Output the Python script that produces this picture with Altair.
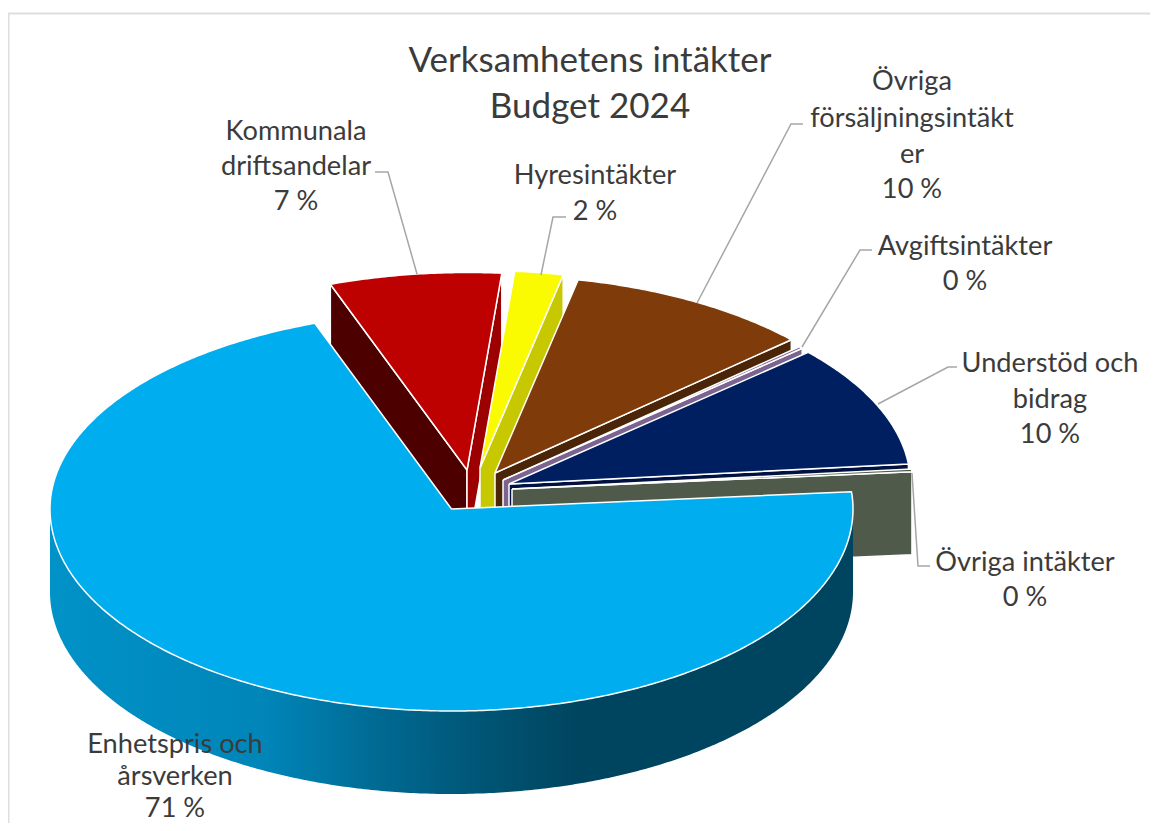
import math
import altair as alt
import pandas as pd

# --- chart values ---------------------------------------------------------
categories = ["Kommunala driftsandelar", "Hyresintäkter", "Övriga försäljningsintäkter",
              "Avgiftsintäkter", "Understöd och bidrag", "Övriga intäkter", "Enhetspris och årsverken"]
shares = [6.91, 1.94, 9.89, 0.17, 10.0, 0.22, 70.87]
start_angle = -19.9
title_lines = ["Verksamhetens intäkter", "Budget 2024"]
label_lines = [
    ["Kommunala", "driftsandelar", "7 %"],
    ["Hyresintäkter", "2 %"],
    ["Övriga", "försäljningsintäkt", "er", "10 %"],
    ["Avgiftsintäkter", "0 %"],
    ["Understöd och", "bidrag", "10 %"],
    ["Övriga intäkter", "0 %"],
    ["Enhetspris och", "årsverken", "71 %"],
]

# --- styling / layout -----------------------------------------------------
top_colors = ["#bd0000", "#fafa00", "#7f3c0a", "#7b6290", "#001f60", "#4f5a4a", "#00aeef"]
end_face = ["#9c0000", "#c8c800", "#4a2508", "#7b6490", "#001040", "#4f5a4a", "#00aeef"]
start_face = ["#4d0000"] * 7
apex_x = [467, 480, 495, 503, 509, 512, 451.5]
apex_y = [470, 468, 473, 480, 484, 489, 509]
RX, RY_BACK, RY_FRONT, DEPTH = 401.5, 197.5, 202, 83
label_cx = [296, 595, 912, 965, 1050, 1025, 175]
label_cy = [[132, 167, 202], [176, 212], [82, 119, 155, 190], [247, 282], [364, 400, 435], [563, 598], [745, 777, 809]]
leaders = [
    [(375, 172), (388, 172), (417, 274)],
    [(566, 217), (553, 217), (541, 275)],
    [(803, 124), (791, 124), (697, 303)],
    [(872, 250), (860, 250), (802, 347)],
    [(957, 367), (948, 367), (878, 404)],
    [(912, 473), (918, 566), (930, 566)],
]
W, H = 1142, 815
xs = alt.Scale(domain=[8, 1150], nice=False, zero=False)
ys = alt.Scale(domain=[823, 8], nice=False, zero=False)
FONT = "Lato"
FS = 27.2


def pt(i, t, drop=0):
    r = math.radians(t)
    c = math.cos(r)
    ry = RY_BACK if c > 0 else RY_FRONT
    return (apex_x[i] + RX * math.sin(r), apex_y[i] - ry * c + drop)


def poly(points, **mark):
    df = pd.DataFrame(points, columns=["x", "y"])
    df["o"] = range(len(df))
    return alt.Chart(df).mark_line(**mark).encode(
        x=alt.X("x:Q", scale=xs, axis=None),
        y=alt.Y("y:Q", scale=ys, axis=None),
        order="o:Q",
    )


def arc(i, a, b, drop=0):
    n = max(2, int(abs(b - a) * 2))
    return [pt(i, a + (b - a) * k / n, drop) for k in range(n + 1)]


def in_range(t, lo, hi):
    t = t % 360
    return lo < t < hi


layers = []
# chart frame
layers.append(poly([(8.5, 823), (8.5, 13.5), (1150, 13.5)], stroke="#dedede", strokeWidth=2))

wall_stops = [(0, "#0092c8"), (0.27, "#0085b8"), (0.42, "#006890"), (0.56, "#005270"), (0.66, "#00455f"), (1, "#00455f")]
gradient = alt.Gradient(gradient="linear", x1=0, x2=1, y1=0, y2=0,
                        stops=[alt.GradientStop(offset=o, color=c) for o, c in wall_stops])

edge = dict(stroke="white", strokeWidth=1.5, strokeJoin="round")
angle = start_angle
for i, share in enumerate(shares):
    a, b = angle, angle + share * 3.6
    angle = b
    apex = (apex_x[i], apex_y[i])
    apex_low = (apex_x[i], apex_y[i] + DEPTH)
    if in_range(a, 180, 360):
        face = [apex, pt(i, a), pt(i, a, DEPTH), apex_low, apex]
        layers.append(poly(face, fill=start_face[i], **edge))
    if in_range(b, 0, 180):
        face = [apex, pt(i, b), pt(i, b, DEPTH), apex_low, apex]
        layers.append(poly(face, fill=end_face[i], **edge))
    lo, hi = max(a, 90), min(b, 270)
    if hi > lo:
        wall = arc(i, lo, hi) + arc(i, hi, lo, DEPTH)
        wall.append(wall[0])
        layers.append(poly(wall, fill=gradient, strokeWidth=0, stroke="#00000000"))
    top = [apex] + arc(i, a, b) + [apex]
    layers.append(poly(top, fill=top_colors[i], **edge))

for line in leaders:
    layers.append(poly(line, stroke="#a6a6a6", strokeWidth=1.5))

rows = []
for cx, ys_, lines in zip(label_cx, label_cy, label_lines):
    for yy, text in zip(ys_, lines):
        rows.append({"x": cx, "y": yy, "t": text})
layers.append(alt.Chart(pd.DataFrame(rows)).mark_text(
    font=FONT, fontSize=FS, color="#3b3b3b", baseline="middle", align="center"
).encode(x=alt.X("x:Q", scale=xs, axis=None), y=alt.Y("y:Q", scale=ys, axis=None), text="t:N"))

title_df = pd.DataFrame({"x": [590, 590], "y": [61, 107], "t": title_lines})
layers.append(alt.Chart(title_df).mark_text(
    font=FONT, fontSize=35, color="#3b3b3b", baseline="middle", align="center"
).encode(x=alt.X("x:Q", scale=xs, axis=None), y=alt.Y("y:Q", scale=ys, axis=None), text="t:N"))

chart = alt.layer(*layers).properties(
    width=W, height=H, padding=0, background="white",
    autosize=alt.AutoSizeParams(type="none"),
).configure_view(stroke=None)
chart.save("out.html", embed_options={"renderer": "svg", "actions": False})
